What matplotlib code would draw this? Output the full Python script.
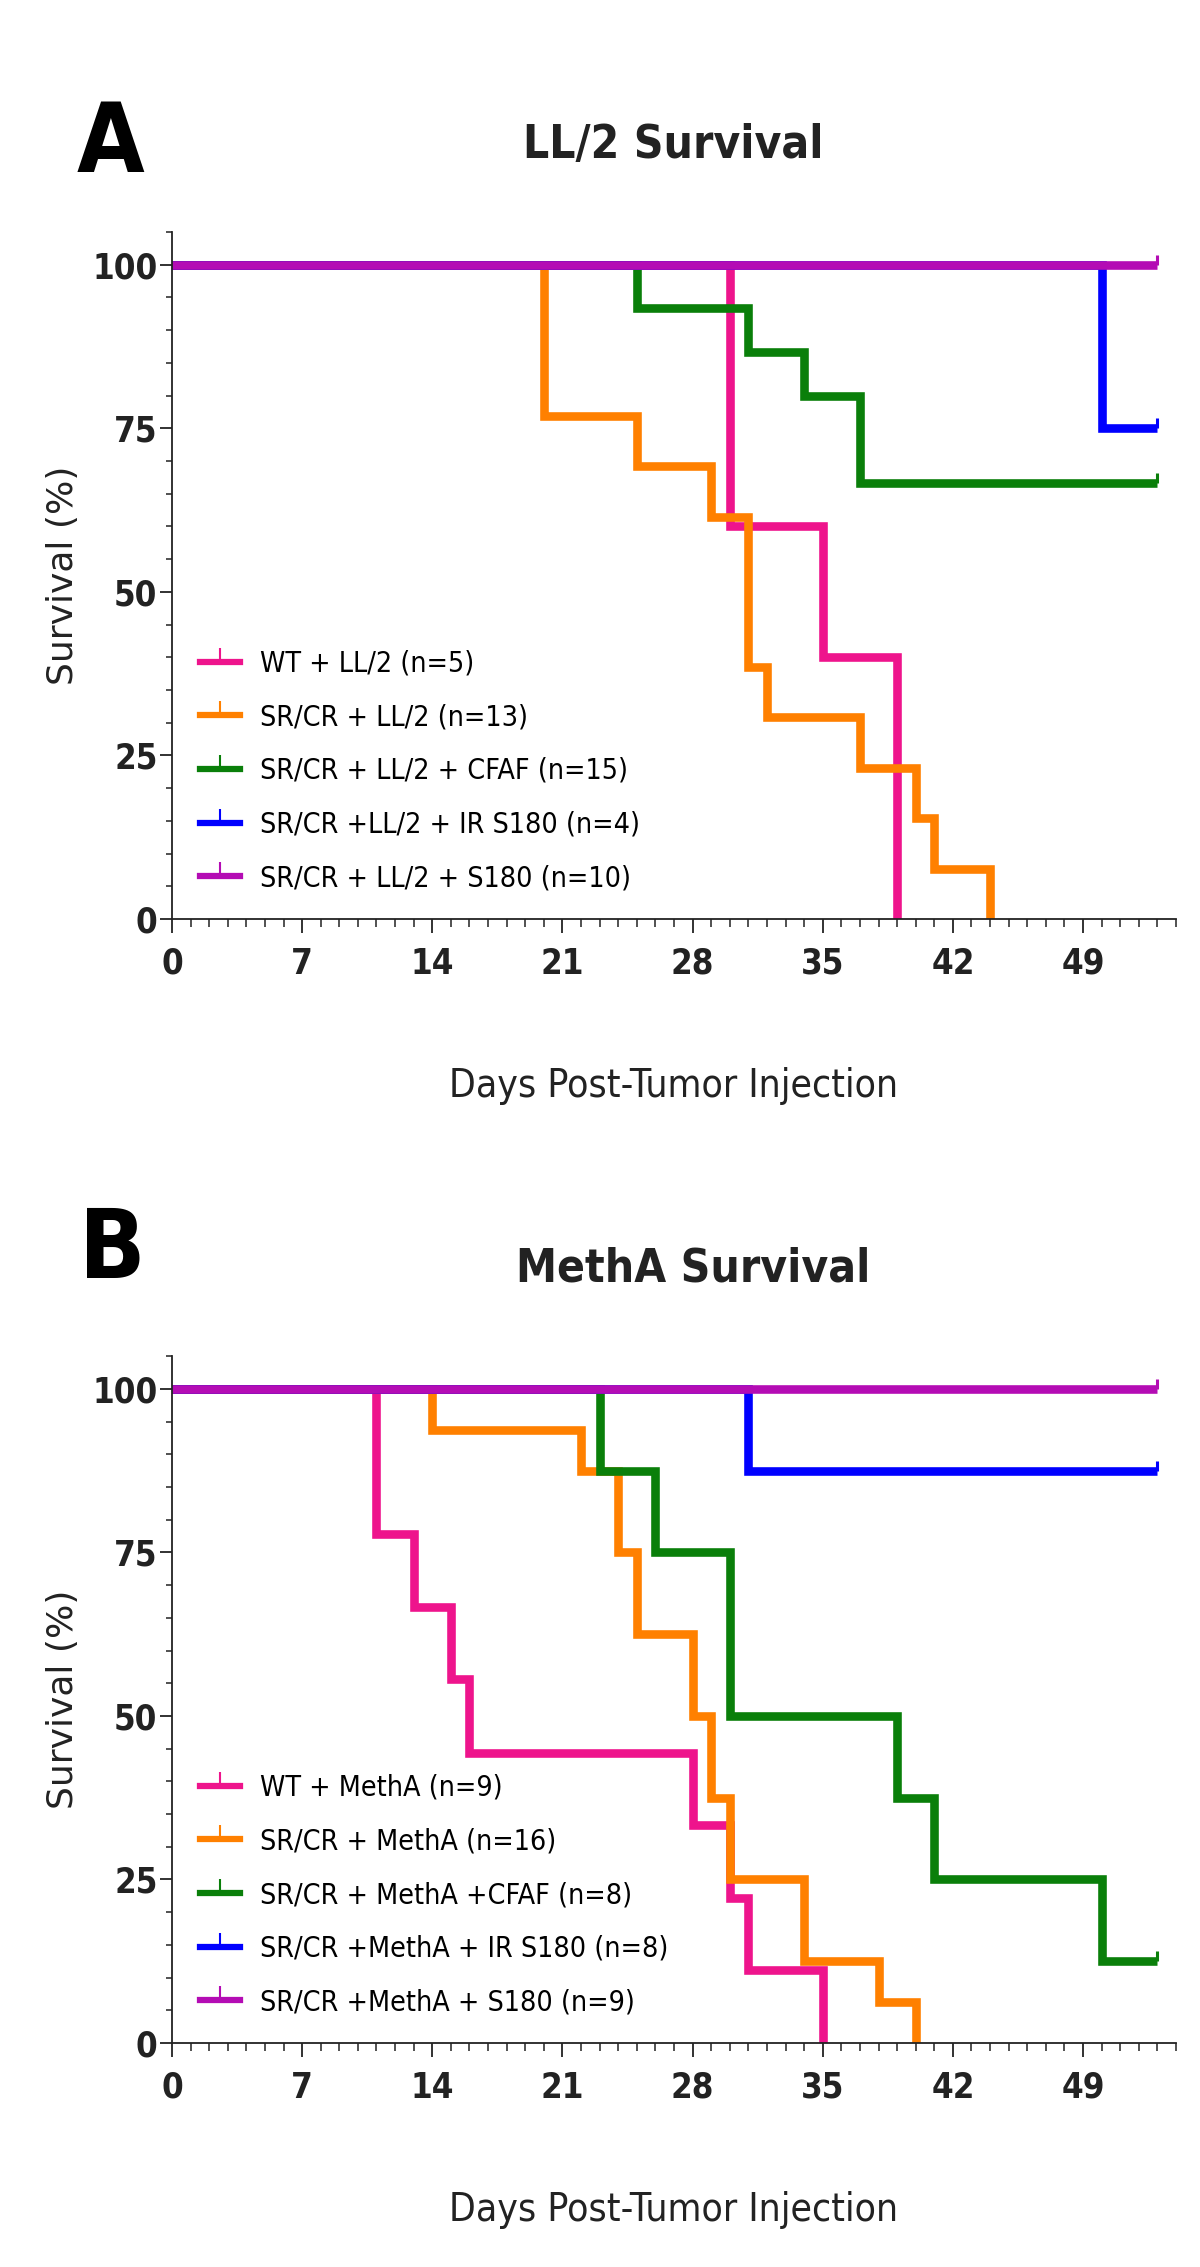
import matplotlib
matplotlib.use("Agg")
import matplotlib.pyplot as plt
from matplotlib.lines import Line2D
from matplotlib.ticker import FixedLocator, MultipleLocator
from matplotlib.markers import TICKUP

plt.rcParams['font.family'] = ['DejaVu Sans']
plt.rcParams['font.stretch'] = 'condensed'

# ---- data (days, % survival) ----
x_ticks = [0, 7, 14, 21, 28, 35, 42, 49]
y_ticks = [0, 25, 50, 75, 100]
colors = ['#ee148c', '#ff8000', '#0a7f0a', '#0000ff', '#b40cb4']

# A: LL/2
labels_a = ['WT + LL/2 (n=5)', 'SR/CR + LL/2 (n=13)', 'SR/CR + LL/2 + CFAF (n=15)',
            'SR/CR +LL/2 + IR S180 (n=4)', 'SR/CR + LL/2 + S180 (n=10)']
wt_a_days = [0, 30, 35, 39]
wt_a_surv = [100, 60, 40, 0]
sr_a_days = [0, 20, 25, 29, 31, 32, 37, 40, 41, 44]
sr_a_surv = [100, 76.9, 69.2, 61.5, 38.5, 30.8, 23.1, 15.4, 7.7, 0]
cfaf_a_days = [0, 25, 31, 34, 37, 53]
cfaf_a_surv = [100, 93.3, 86.7, 80.0, 66.7, 66.7]
irs_a_days = [0, 50, 53]
irs_a_surv = [100, 75, 75]
s180_a_days = [0, 53]
s180_a_surv = [100, 100]

# B: MethA
labels_b = ['WT + MethA (n=9)', 'SR/CR + MethA (n=16)', 'SR/CR + MethA +CFAF (n=8)',
            'SR/CR +MethA + IR S180 (n=8)', 'SR/CR +MethA + S180 (n=9)']
wt_b_days = [0, 11, 13, 15, 16, 28, 30, 31, 35]
wt_b_surv = [100, 77.8, 66.7, 55.6, 44.4, 33.3, 22.2, 11.1, 0]
sr_b_days = [0, 14, 22, 24, 25, 28, 29, 30, 34, 38, 40]
sr_b_surv = [100, 93.75, 87.5, 75, 62.5, 50, 37.5, 25, 12.5, 6.25, 0]
cfaf_b_days = [0, 23, 26, 30, 39, 41, 50, 53]
cfaf_b_surv = [100, 87.5, 75, 50, 37.5, 25, 12.5, 12.5]
irs_b_days = [0, 31, 53]
irs_b_surv = [100, 87.5, 87.5]
s180_b_days = [0, 53]
s180_b_surv = [100, 100]

series_a = [(wt_a_days, wt_a_surv), (sr_a_days, sr_a_surv), (cfaf_a_days, cfaf_a_surv),
            (irs_a_days, irs_a_surv), (s180_a_days, s180_a_surv)]
series_b = [(wt_b_days, wt_b_surv), (sr_b_days, sr_b_surv), (cfaf_b_days, cfaf_b_surv),
            (irs_b_days, irs_b_surv), (s180_b_days, s180_b_surv)]

ink = '#222222'


def draw_panel(ax, series, labels):
    for (d, s), c in zip(series, colors):
        ax.step(d, s, where='post', color=c, lw=6.2,
                solid_joinstyle='miter', solid_capstyle='butt')
        if s[-1] > 0:  # censored at end of follow-up
            ax.plot(d[-1], s[-1], ls='none', marker=TICKUP, ms=7.5, mew=2.2, color=c)

    ax.set_xlim(0, 54)
    ax.set_ylim(0, 105)
    ax.xaxis.set_major_locator(FixedLocator(x_ticks))
    ax.xaxis.set_minor_locator(MultipleLocator(1))
    ax.yaxis.set_major_locator(FixedLocator(y_ticks))
    ax.yaxis.set_minor_locator(MultipleLocator(5))
    for sp in ['top', 'right']:
        ax.spines[sp].set_visible(False)
    for sp in ['left', 'bottom']:
        ax.spines[sp].set_linewidth(1.3)
        ax.spines[sp].set_color(ink)
    ax.tick_params(axis='x', which='major', length=10, width=1.3, pad=10, color=ink,
                   labelsize=25, labelcolor=ink)
    ax.tick_params(axis='x', which='minor', length=6, width=1.1, color=ink)
    ax.tick_params(axis='y', which='major', length=8.5, width=1.3, pad=2, color=ink,
                   labelsize=25, labelcolor=ink)
    ax.tick_params(axis='y', which='minor', length=4.5, width=1.1, color=ink)
    for t in ax.get_xticklabels() + ax.get_yticklabels():
        t.set_fontweight('bold')

    ax.set_ylabel('Survival (%)', fontsize=26, fontstretch='normal', color=ink)
    ax.yaxis.set_label_coords(-0.092, 0.5)
    ax.set_xlabel('Days Post-Tumor Injection', fontsize=28, color=ink, va='top')
    ax.xaxis.set_label_coords(0.5, -0.215)

    handles = [Line2D([], [], color=c, lw=4.5, marker=TICKUP, ms=10, mew=1.5)
               for c in colors]
    ax.legend(handles, labels, loc='upper left', bbox_to_anchor=(0.028, 0.392),
              frameon=False, fontsize=20.5, handlelength=1.4, handletextpad=0.7,
              labelspacing=0.9, borderpad=0, borderaxespad=0, labelcolor='black')


fig = plt.figure(figsize=(12, 22.67), dpi=100)
ax_a = fig.add_axes([0.1433, 0.5946, 0.8367, 0.3031])
ax_b = fig.add_axes([0.1433, 0.0988, 0.8367, 0.3030])

draw_panel(ax_a, series_a, labels_a)
draw_panel(ax_b, series_b, labels_b)

fig.text(0.092, 0.9241, 'A', fontsize=70, fontweight='bold', ha='center', va='baseline')
fig.text(0.094, 0.4363, 'B', fontsize=70, fontweight='bold', ha='center', va='baseline')
fig.text(0.561, 0.9303, 'LL/2 Survival', fontsize=33, fontweight='bold', ha='center',
         va='baseline', color=ink)
fig.text(0.578, 0.4345, 'MethA Survival', fontsize=33, fontweight='bold', ha='center',
         va='baseline', color=ink)

fig.savefig('out.png', dpi=100)
